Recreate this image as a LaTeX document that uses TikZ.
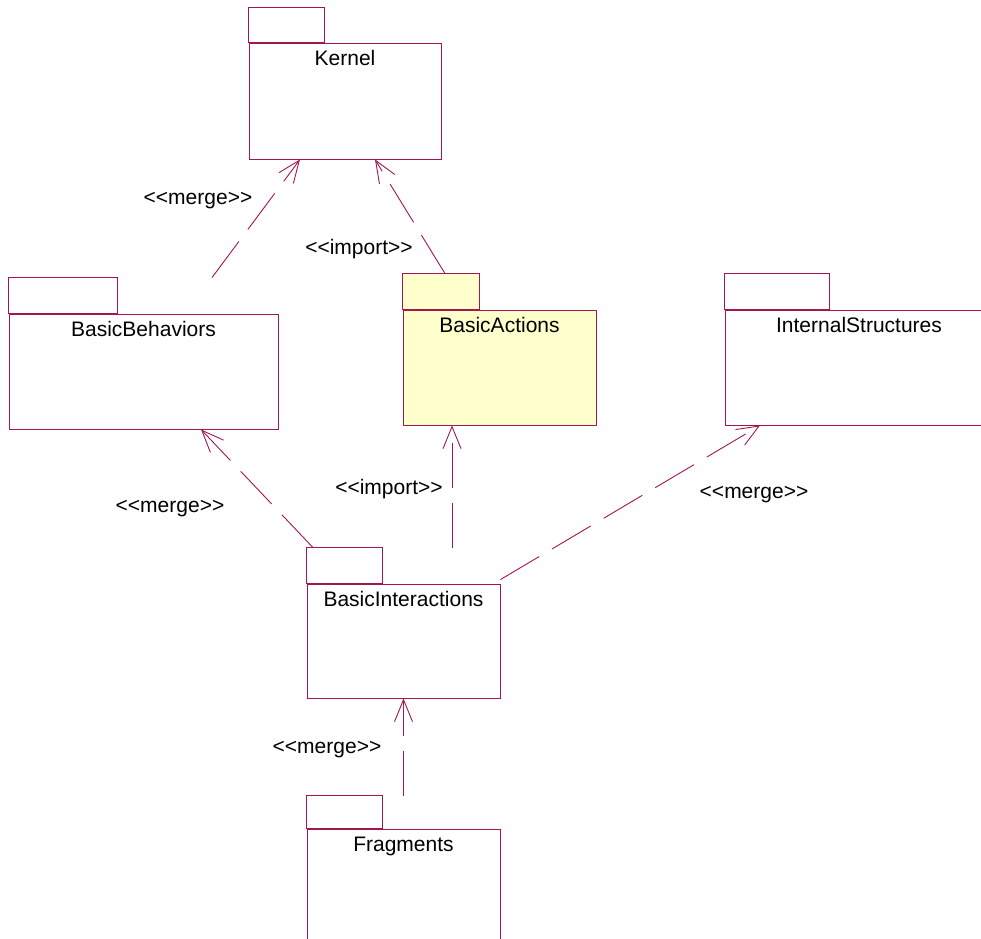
\documentclass[tikz,border=0pt]{standalone}
\usepackage{fontspec}
\setmainfont{Liberation Sans}[Ligatures=TeXOff]
\usetikzlibrary{arrows.meta, positioning}
\definecolor{umlline}{RGB}{163,22,78}
\definecolor{umlfill}{RGB}{255,255,204}

\begin{document}
\begin{tikzpicture}[x=1pt, y=-1pt,
    every node/.style={font=\fontsize{21}{25}\selectfont},
    pkg/.style={draw=umlline, line width=0.9pt, inner sep=0pt,
        minimum width=#1, minimum height=115pt,
        label={[anchor=north, inner sep=0pt, yshift=-8pt]north:\pkgname}},
    tab/.style={draw=umlline, line width=0.9pt},
    dep/.style={draw=umlline, line width=0.9pt, dash pattern=on 45pt off 15pt,
        -{Straight Barb[length=22pt, width=18pt]}},
    stereo/.style={inner sep=0pt, yshift=-3pt}
  ]
  \useasboundingbox (0,0) rectangle (981,938);

  % packages
  \def\pkgname{Kernel}
  \node[pkg=192pt, minimum height=116pt] (kernel) at (345,101) {};
  \def\pkgname{BasicBehaviors}
  \node[pkg=269pt] (beh) at (143.5,371.5) {};
  \def\pkgname{BasicActions}
  \node[pkg=193pt, fill=umlfill] (act) at (499.5,367.5) {};
  \def\pkgname{InternalStructures}
  \node[pkg=268pt] (ist) at (859,367.5) {};
  \def\pkgname{BasicInteractions}
  \node[pkg=193pt, minimum height=114pt] (inter) at (403.5,641) {};
  \def\pkgname{Fragments}
  \node[pkg=193pt] (frag) at (403.5,886.5) {};

  % tabs
  \foreach \p/\w/\h/\c in {kernel/76/35/white, beh/109/36/white, act/77/36/umlfill,
                           ist/105/36/white, inter/76/36/white, frag/76/33/white}
    \draw[tab, fill=\c] (\p.north west) rectangle ++(\w,-\h);

  % dependencies
  \draw[dep] ([xshift=68.5pt, yshift=36pt]beh.north) -- ([xshift=-45pt]kernel.south);
  \draw[dep] ([xshift=-54.5pt, yshift=36pt]act.north) -- ([xshift=30pt]kernel.south);
  \draw[dep] ([xshift=-90.5pt, yshift=36pt]inter.north) -- ([xshift=57.5pt]beh.south);
  \draw[dep] ([xshift=48.5pt, yshift=36pt]inter.north) -- ([xshift=-47.5pt]act.south);
  \draw[dep] ([yshift=4pt]inter.north east) -- ([xshift=-99pt]ist.south);
  \draw[dep] ([yshift=33pt]frag.north) -- (inter.south);

  % stereotypes
  \node[stereo] (m1) at (198,198) {<<merge>>};
  \node[stereo] (i1) at (359,246) {<<import>>};
  \node[stereo] (m2) at (170,506) {<<merge>>};
  \node[stereo] (i2) at (389,486) {<<import>>};
  \node[stereo] (m3) at (754,492) {<<merge>>};
  \node[stereo] (m4) at (327,747) {<<merge>>};
\end{tikzpicture}
\end{document}
